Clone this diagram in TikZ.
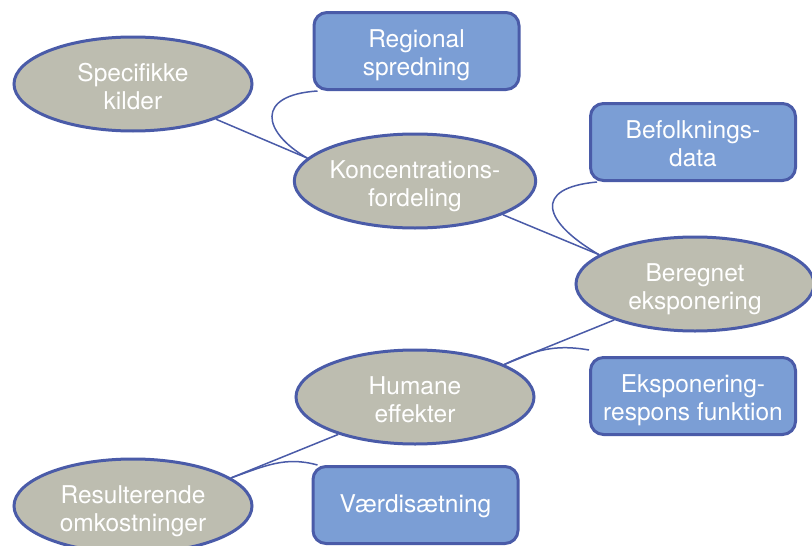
\documentclass[tikz,border=0pt]{standalone}
\usepackage{fontspec}
\setmainfont{TeX Gyre Heros}
\usetikzlibrary{shapes.geometric,backgrounds}
\definecolor{edgeblue}{HTML}{4A5BA8}
\definecolor{ellfill}{HTML}{BDBDB0}
\definecolor{boxfill}{HTML}{7B9ED5}
\newcommand\nlbl[2][-6pt]{\raisebox{#1}[\height][\depth]{\begin{tabular}{@{}c@{}}#2\end{tabular}}}
\tikzset{
  ell/.style={ellipse, draw=edgeblue, line width=3pt, fill=ellfill, inner sep=0pt,
    minimum width=238pt, minimum height=94pt, text=white,
    font=\fontsize{24.5}{28}\selectfont},
  boxnode/.style={rectangle, rounded corners=13pt, draw=edgeblue, line width=3pt, fill=boxfill,
    inner sep=0pt, minimum width=205pt, minimum height=77pt, text=white,
    font=\fontsize{24.5}{28}\selectfont},
  link/.style={draw=edgeblue, line width=1.5pt}
}
\begin{document}
\begin{tikzpicture}[x=1pt,y=-1pt]
\useasboundingbox (0,0) rectangle (812,546);
\clip (0,0) rectangle (812,546);
\node[ell] (spec) at (133,84) {\nlbl{Specifikke\\kilder}};
\node[ell] (konc) at (415,181) {\nlbl{Koncentrations-\\fordeling}};
\node[ell] (bereg) at (695,284) {\nlbl{Beregnet\\eksponering}};
\node[ell] (hum) at (415,397) {\nlbl{Humane\\effekter}};
\node[ell] (res) at (133,506) {\nlbl{Resulterende\\omkostninger}};
\node[boxnode] (reg) at (416.5,51) {\nlbl[-4.5pt]{Regional\\spredning}};
\node[boxnode] (bef) at (693,142) {\nlbl[-4.5pt]{Befolknings-\\data}};
\node[boxnode] (eks) at (693,396) {\nlbl[-4.5pt]{Eksponering-\\respons funktion}};
\node[boxnode] (vaerd) at (415.5,505) {\nlbl[-1.5pt]{Værdisætning}};
\begin{scope}[on background layer]
\draw[link] (spec.-23) -- (konc.168);
\draw[link] ([xshift=5pt]reg.south west) .. controls (255,95) and (262,132) .. (konc.168);
\draw[link] (konc.-21) -- (bereg.163);
\draw[link] ([xshift=8pt]bef.south west) .. controls (532,188) and (543,222) .. (bereg.163);
\draw[link] (bereg.204) -- (hum.20);
\draw[link] (hum.20) .. controls (535,350) and (555,344) .. ([yshift=6pt]eks.north west);
\draw[link] (hum.206) -- (res.16);
\draw[link] (res.16) .. controls (265,466) and (285,456) .. ([xshift=6pt]vaerd.north west);
\end{scope}
\end{tikzpicture}
\end{document}
